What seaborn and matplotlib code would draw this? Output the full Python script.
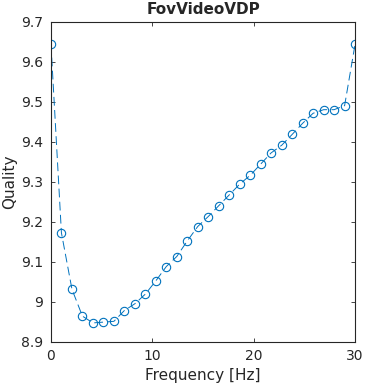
import matplotlib
matplotlib.use("Agg")
import numpy as np
import pandas as pd
import seaborn as sns
from matplotlib import pyplot as plt

# frequencies (Hz), 30 samples between 0 and 30
FREQ = [0.00, 1.03, 2.07, 3.10, 4.14, 5.17, 6.21, 7.24, 8.28, 9.31,
        10.34, 11.38, 12.41, 13.45, 14.48, 15.52, 16.55, 17.59, 18.62, 19.66,
        20.69, 21.72, 22.76, 23.79, 24.83, 25.86, 26.90, 27.93, 28.97, 30.00]
QUALITY = [9.643, 9.172, 9.031, 8.964, 8.947, 8.949, 8.951, 8.978, 8.995, 9.019,
           9.052, 9.088, 9.113, 9.152, 9.188, 9.213, 9.240, 9.267, 9.294, 9.316,
           9.344, 9.372, 9.391, 9.418, 9.446, 9.471, 9.480, 9.480, 9.490, 9.643]
X_TICKS = [0, 10, 20, 30]
Y_TICKS = [8.9, 9.0, 9.1, 9.2, 9.3, 9.4, 9.5, 9.6, 9.7]
Y_TICK_LABELS = ["8.9", "9", "9.1", "9.2", "9.3", "9.4", "9.5", "9.6", "9.7"]

BLUE = "#0072BD"


def main():
    sns.set_style("white")
    plt.rcParams["font.family"] = ["DejaVu Sans"]
    df = pd.DataFrame({"freq": FREQ, "quality": QUALITY})

    fig = plt.figure(figsize=(3.65, 3.87), dpi=100)
    ax = fig.add_axes([0.1397, 0.117, 0.833, 0.827])
    sns.lineplot(
        data=df, x="freq", y="quality", ax=ax,
        color=BLUE, linewidth=0.7,
        marker="o", markersize=6, markerfacecolor="none",
        markeredgecolor=BLUE, markeredgewidth=0.8,
    )
    ax.lines[0].set_linestyle((0, (9, 4.5)))

    ax.set_xlim(0, 30)
    ax.set_ylim(8.9, 9.7)
    ax.set_xticks(X_TICKS)
    ax.set_yticks(Y_TICKS)
    ax.set_yticklabels(Y_TICK_LABELS)
    ax.tick_params(axis="both", direction="in", length=3, width=0.6,
                   labelsize=10, colors="#262626", top=True, right=True,
                   bottom=True, left=True)
    ax.tick_params(axis="x", pad=5)
    ax.tick_params(axis="y", pad=5.5)
    ax.set_xlabel("Frequency [Hz]", fontsize=11, color="#262626", labelpad=4)
    ax.set_ylabel("Quality", fontsize=11, color="#262626", labelpad=3)
    ax.set_title("FovVideoVDP", fontsize=11, fontweight="bold", pad=5.5)

    for spine in ax.spines.values():
        spine.set_linewidth(0.8)
        spine.set_color("#262626")

    fig.savefig("out.png", dpi=100)


if __name__ == "__main__":
    main()
